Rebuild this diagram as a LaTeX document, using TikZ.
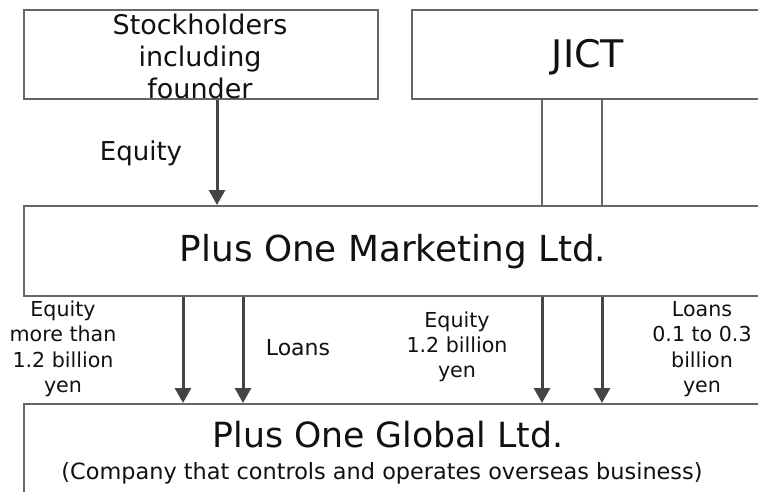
\documentclass[tikz,border=0pt]{standalone}
\usepackage{fontspec}
\setmainfont{DejaVu Sans}
\usetikzlibrary{arrows.meta}
\definecolor{boxline}{HTML}{666666}
\definecolor{arrline}{HTML}{444444}
\definecolor{txt}{HTML}{111111}
\tikzset{
  box/.style={draw=boxline, line width=2pt, fill=none, inner sep=0pt, anchor=north west},
  arr/.style={draw=arrline, line width=3pt, -{Triangle[width=16pt,length=15pt]}},
  link/.style={draw=boxline, line width=2pt},
  lbl/.style={text=txt, align=center, inner sep=0pt},
}
\newcommand{\fs}[2]{\fontsize{#1}{#2}\selectfont}
\begin{document}
\begin{tikzpicture}[x=1pt,y=-1pt]
\useasboundingbox (0,0) rectangle (758,491);
\fill[white] (0,0) rectangle (758,491);
\begin{scope}
\clip (0,0) rectangle (758,491);
% boxes
\node[box, minimum width=354pt, minimum height=89pt] (sh) at (23,9) {};
\node[box, minimum width=420pt, minimum height=89pt] (jict) at (411,9) {};
\node[box, minimum width=780pt, minimum height=90pt] (mk) at (23,205) {};
\node[box, minimum width=780pt, minimum height=140pt] (gl) at (23,403) {};
% x positions
\coordinate (xa) at (217,0);
\coordinate (xb) at (542,0);
\coordinate (xc) at (602,0);
\coordinate (xd) at (183,0);
\coordinate (xe) at (243,0);
% connectors
\draw[arr] (sh.south -| xa) -- (mk.north -| xa);
\draw[link] (jict.south -| xb) -- (mk.north -| xb);
\draw[link] (jict.south -| xc) -- (mk.north -| xc);
\draw[arr] (mk.south -| xd) -- (gl.north -| xd);
\draw[arr] (mk.south -| xe) -- (gl.north -| xe);
\draw[arr] (mk.south -| xb) -- (gl.north -| xb);
\draw[arr] (mk.south -| xc) -- (gl.north -| xc);
\end{scope}
% texts
\node[lbl, font=\fs{27}{32}] (tsh) at (200,56) {Stockholders\\including\\founder};
\node[lbl, font=\fs{38}{44}] (tjict) at (588,57) {JICT};
\node[lbl, font=\fs{26}{30}] (teq) at (141,153) {Equity};
\node[lbl, font=\fs{35.8}{42}] (tmk) at (393,252) {Plus One Marketing Ltd.};
\node[lbl, font=\fs{20.6}{25.5}] (tl1) at (63,349) {Equity\\more than\\1.2 billion\\yen};
\node[lbl, font=\fs{22}{26}] (tl2) at (298,348) {Loans};
\node[lbl, font=\fs{20.6}{25}] (tl3) at (457,347) {Equity\\1.2 billion\\yen};
\node[lbl, font=\fs{20.6}{25.5}] (tl4) at (702,349) {Loans\\0.1 to 0.3\\billion\\yen};
\node[lbl, font=\fs{34.7}{40}] (tgl) at (388,435) {Plus One Global Ltd.};
\node[lbl, font=\fs{22.4}{26}] (tsub) at (382,473) {(Company that controls and operates overseas business)};
\end{tikzpicture}
\end{document}
